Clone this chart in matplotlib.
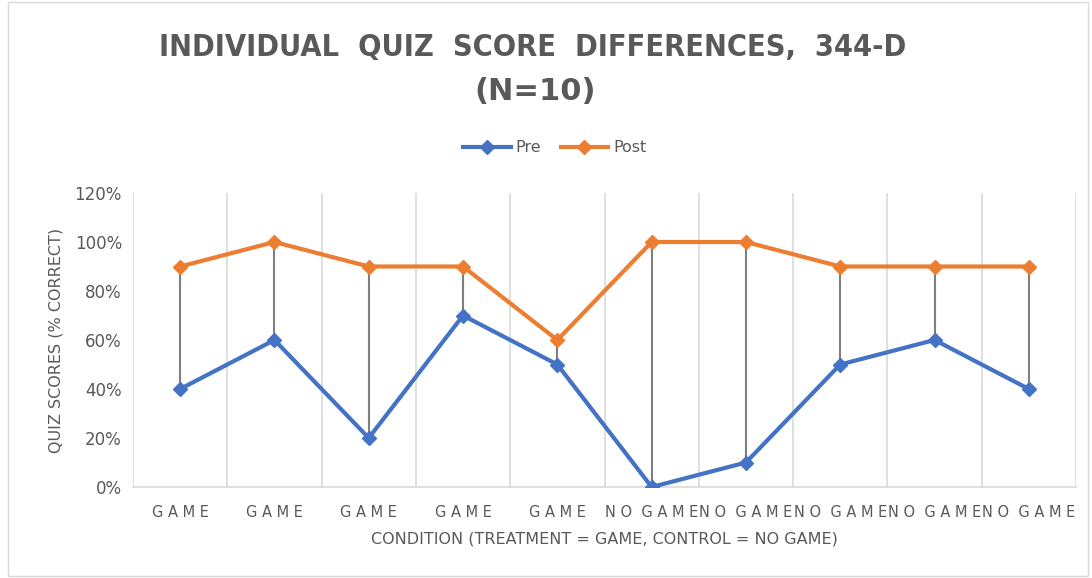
import numpy as np
import matplotlib; matplotlib.use('Agg'); import matplotlib.pyplot as plt
from matplotlib.ticker import PercentFormatter

# data
conditions = ['GAME']*5 + ['NO GAME']*5
pre  = [40, 60, 20, 70, 50, 0, 10, 50, 60, 40]
post = [90, 100, 90, 90, 60, 100, 100, 90, 90, 90]

BLUE, ORANGE, GREY, TXT = '#4472C4', '#ED7D31', '#D9D9D9', '#595959'

def spaced(s):
    # Excel-style letter spacing on the category labels
    return '  '.join(' '.join(w) for w in s.split(' '))

fig = plt.figure(figsize=(10.92, 5.78), dpi=100)
ax = fig.add_axes([133/1092, 1-487/578, 943/1092, 294/578])
x = np.arange(len(conditions))

# high-low lines
ax.vlines(x, pre, post, color='#7F7F7F', lw=1.5, zorder=2)
ax.plot(x, pre, color=BLUE, lw=3, marker='D', ms=7, label='Pre', zorder=3)
ax.plot(x, post, color=ORANGE, lw=3, marker='D', ms=7, label='Post', zorder=3)

ax.set_xlim(-0.5, len(x)-0.5)
ax.set_ylim(0, 120)
ax.set_yticks(range(0, 121, 20))
ax.yaxis.set_major_formatter(PercentFormatter(decimals=0))
ax.set_xticks(x)
ax.set_xticklabels([spaced(c) for c in conditions], fontsize=10.5, color=TXT)
for b in np.arange(-0.5, len(x), 1.0):
    ax.axvline(b, color=GREY, lw=1.2, zorder=0)
for s in ['top', 'right', 'left']:
    ax.spines[s].set_visible(False)
ax.spines['bottom'].set_color(GREY)
ax.spines['bottom'].set_linewidth(1.2)
ax.tick_params(length=0, colors=TXT, labelsize=12)
ax.tick_params(axis='x', pad=13, labelsize=10.5)
ax.tick_params(axis='y', pad=8)
ax.set_ylabel('QUIZ SCORES (% CORRECT)', fontsize=11.5, color=TXT, labelpad=8)
ax.set_xlabel('CONDITION (TREATMENT = GAME, CONTROL = NO GAME)', fontsize=11.5, color=TXT, labelpad=8)

fig.text(0.488, 1-48/578, 'INDIVIDUAL  QUIZ  SCORE  DIFFERENCES,  344-D', ha='center', va='center',
         fontsize=22, fontweight='bold', color=TXT, fontstretch='condensed')
fig.text(0.49, 1-92/578, '(N=10)', ha='center', va='center', fontsize=22, fontweight='bold', color=TXT)
fig.legend(loc='center', bbox_to_anchor=(0.508, 1-148/578), ncol=2, frameon=False,
           fontsize=11.5, labelcolor=TXT, handlelength=3, columnspacing=1.2, handletextpad=0.3)

# chart area border
fig.patches.append(plt.Rectangle((8/1092, 2/578), 1080/1092, 574/578, transform=fig.transFigure,
                                 fill=False, edgecolor=GREY, lw=1))
fig.savefig('out.png', dpi=100)
